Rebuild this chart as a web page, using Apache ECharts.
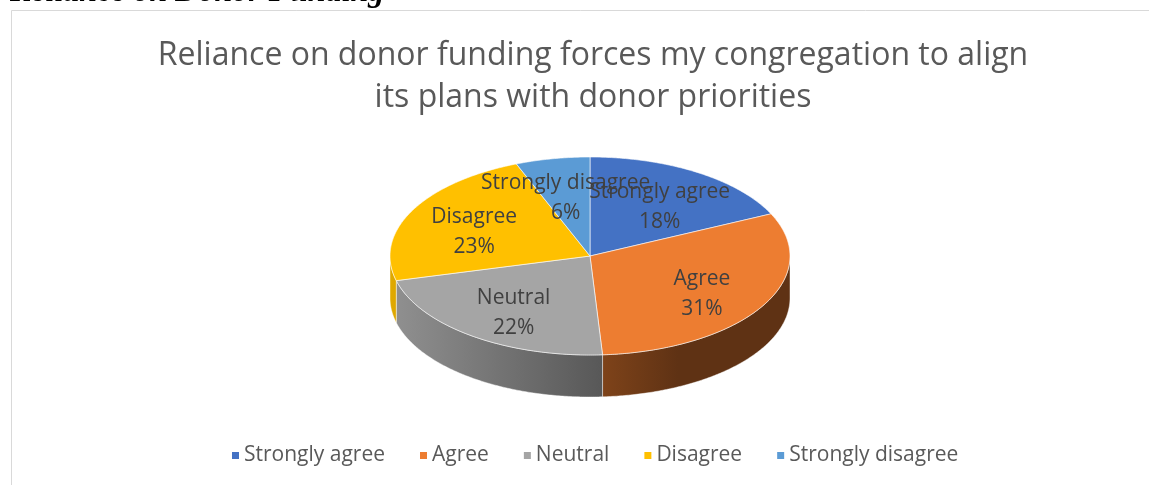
<!DOCTYPE html>
<html>
<head>
<meta charset="utf-8">
<script src="https://cdn.jsdelivr.net/npm/echarts@6/dist/echarts.min.js"></script>
<style>
  html, body { margin: 0; padding: 0; background: #ffffff; }
  #chart { width: 1149px; height: 485px; }
</style>
</head>
<body>
<div id="chart"></div>
<script>
// Survey responses (percent of respondents)
const categories = ['Strongly agree', 'Agree', 'Neutral', 'Disagree', 'Strongly disagree'];
const values = [18, 31, 22, 23, 6];
const colors = ['#4472C4', '#ED7D31', '#A5A5A5', '#FFC000', '#5B9BD5'];
const titleLines = ['Reliance on donor funding forces my congregation to align', 'its plans with donor priorities'];
const headingText = 'Reliance on Donor Funding';

const FONT = '"Open Sans", "Noto Sans", sans-serif';
const total = values.reduce((a, b) => a + b, 0);
const starts = [];
values.reduce((acc, v) => { starts.push(acc); return acc + v; }, 0);

// Tilted pie geometry: top ellipse + extruded rim
const PIE = { cx: 590, cy: 256, rx: 200, ry: 99, depth: 42 };
const TAU = Math.PI * 2;

function pt(theta, dy) { // theta clockwise from 12 o'clock
  return [PIE.cx + PIE.rx * Math.sin(theta), PIE.cy - PIE.ry * Math.cos(theta) + (dy || 0)];
}
function arc(a0, a1, dy) {
  const n = Math.max(2, Math.ceil(Math.abs(a1 - a0) / 0.01));
  const pts = [];
  for (let k = 0; k <= n; k++) pts.push(pt(a0 + (a1 - a0) * k / n, dy));
  return pts;
}
function shade(hex, f) {
  const n = parseInt(hex.slice(1), 16);
  const r = Math.round(((n >> 16) & 255) * f);
  const g = Math.round(((n >> 8) & 255) * f);
  const b = Math.round((n & 255) * f);
  return 'rgb(' + r + ',' + g + ',' + b + ')';
}
function rimGradient(hex) {
  return new echarts.graphic.LinearGradient(PIE.cx - PIE.rx, 0, PIE.cx + PIE.rx, 0, [
    { offset: 0, color: shade(hex, 0.88) },
    { offset: 0.52, color: shade(hex, 0.54) },
    { offset: 0.72, color: shade(hex, 0.40) },
    { offset: 1, color: shade(hex, 0.40) }
  ], true);
}

function makeSeries(i) {
  return {
    type: 'custom',
    name: categories[i],
    coordinateSystem: 'none',
    itemStyle: { color: colors[i] },
    data: [[values[i]]],
    renderItem: function (params, api) {
      const a0 = starts[i] / total * TAU;
      const a1 = (starts[i] + api.value(0)) / total * TAU;
      const children = [];
      // front rim (visible between 3 and 9 o'clock going clockwise)
      const s0 = Math.max(a0, Math.PI / 2);
      const s1 = Math.min(a1, Math.PI * 1.5);
      if (s1 > s0) {
        children.push({
          type: 'polygon',
          z2: 1,
          shape: { points: arc(s0, s1, 0).concat(arc(s1, s0, PIE.depth)) },
          style: { fill: rimGradient(colors[i]), stroke: 'rgba(255,255,255,0.55)', lineWidth: 0.8 }
        });
      }
      // top face
      children.push({
        type: 'polygon',
        z2: 2,
        shape: { points: [[PIE.cx, PIE.cy]].concat(arc(a0, a1, 0)) },
        style: { fill: colors[i], stroke: 'rgba(255,255,255,0.75)', lineWidth: 0.8 }
      });
      // data label
      const mid = (a0 + a1) / 2;
      const f = 0.65;
      const pct = Math.round(api.value(0) / total * 100);
      children.push({
        type: 'text',
        z2: 100,
        x: PIE.cx + PIE.rx * f * Math.sin(mid),
        y: PIE.cy - PIE.ry * f * Math.cos(mid) + 5,
        style: {
          text: categories[i] + '\n' + pct + '%',
          fill: '#404040',
          fontSize: 21,
          lineHeight: 30,
          fontFamily: FONT,
          align: 'center',
          verticalAlign: 'middle'
        }
      });
      return { type: 'group', children: children };
    }
  };
}

const chart = echarts.init(document.getElementById('chart'), null, { renderer: 'canvas' });
chart.setOption({
  animation: false,
  backgroundColor: '#ffffff',
  title: {
    text: titleLines.join('\n'),
    left: 588,
    top: 30,
    textAlign: 'center',
    textStyle: { fontFamily: FONT, fontSize: 32, fontWeight: 'normal', color: '#595959', lineHeight: 42 }
  },
  legend: {
    data: categories,
    left: 227,
    top: 440,
    icon: 'rect',
    itemWidth: 7,
    itemHeight: 7,
    itemGap: 35,
    textStyle: { fontFamily: FONT, fontSize: 21, color: '#595959' }
  },
  graphic: [
    {
      type: 'rect',
      z: -10,
      shape: { x: 11.5, y: 10.5, width: 1200, height: 600 },
      style: { fill: 'none', stroke: '#d9d9d9', lineWidth: 1 }
    },
    {
      type: 'text',
      x: 10,
      y: -7,
      style: {
        text: headingText,
        font: 'italic bold 32px "Liberation Serif", "DejaVu Serif", serif',
        fill: '#000000',
        verticalAlign: 'middle'
      }
    }
  ],
  series: categories.map((c, i) => makeSeries(i))
});
</script>
</body>
</html>
